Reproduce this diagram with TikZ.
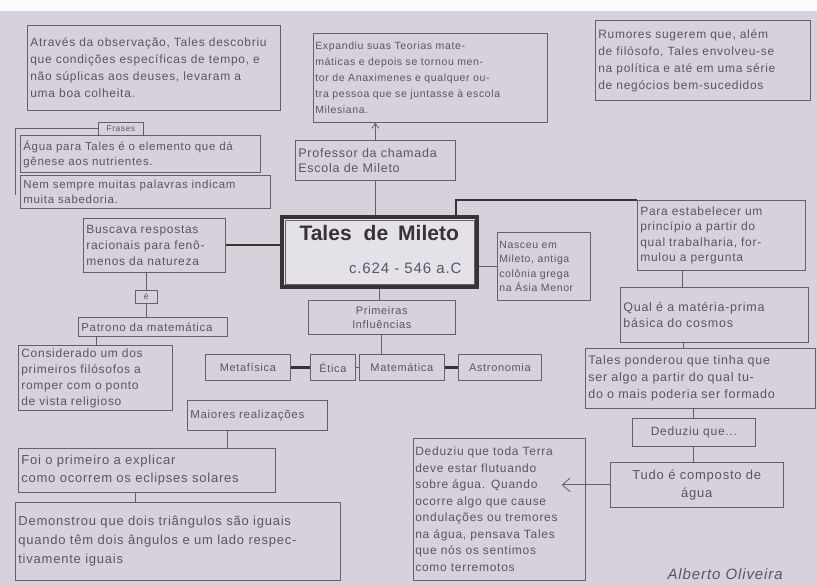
\documentclass[tikz,border=0pt]{standalone}
\usepackage{fontspec}
\setmainfont{Liberation Sans}[LetterSpace=6]
\newfontfamily\plainsans{Liberation Sans}
\usetikzlibrary{calc,arrows.meta}
\definecolor{paper}{RGB}{214,209,219}
\definecolor{pen}{RGB}{100,96,106}
\definecolor{ink}{RGB}{90,86,96}
\definecolor{dark}{RGB}{55,50,52}
\tikzset{
  bx/.style={draw=pen, line width=0.7pt, inner sep=3pt, align=left, text=ink,
    anchor=north west, font=\fontsize{11}{16}\selectfont},
  bxc/.style={bx, align=center},
  ln/.style={draw=pen, line width=0.8pt},
  lnk/.style={draw=dark, line width=2pt},
}
\begin{document}
\begin{tikzpicture}[x=1pt,y=-1pt]
\useasboundingbox (0,0) rectangle (817,585);
\clip (0,0) rectangle (817,585);
\fill[paper] (0,0) rectangle (817,585);
\fill[white!92!paper] (0,0) rectangle (817,11);

% top row
\node[bx, minimum width=253, minimum height=85, text width=247, font=\fontsize{12}{17}\selectfont] (obs) at (27,25)
 {Através da observação, Tales descobriu\\que condições específicas de tempo, e\\não súplicas aos deuses, levaram a\\uma boa colheita.};
\node[bx, minimum width=234, minimum height=89, text width=230, inner sep=2pt, font=\fontsize{10.5}{16}\selectfont] (exp) at (313,33)
 {Expandiu suas Teorias mate-\\máticas e depois se tornou men-\\tor de Anaximenes e qualquer ou-\\tra pessoa que se juntasse à escola\\Milesiana.};
\node[bx, minimum width=215, minimum height=80, text width=209, font=\fontsize{12}{17}\selectfont] (rum) at (595,20)
 {Rumores sugerem que, além\\de filósofo, Tales envolveu-se\\na política e até em uma série\\de negócios bem-sucedidos};

% frases
\node[bxc, minimum width=45, minimum height=13, inner sep=1pt, font=\fontsize{8.5}{9}\selectfont] (fra) at (98,122) {Frases};
\node[bx, minimum width=240, minimum height=37, text width=234, font=\fontsize{11.5}{15}\selectfont] (agu) at (20,135)
 {Água para Tales é o elemento que dá\\gênese aos nutrientes.};
\node[bx, minimum width=250, minimum height=33, text width=244, font=\fontsize{11.5}{15}\selectfont] (nem) at (20,175)
 {Nem sempre muitas palavras indicam\\muita sabedoria.};
\coordinate (fraend) at (15,195);
\draw[ln] (fra.west) -| (fraend);

% professor
\node[bx, minimum width=160, minimum height=40, text width=154, font=\fontsize{12.5}{15}\selectfont] (prof) at (295,140)
 {Professor da chamada\\Escola de Mileto};
\draw[ln, -{Straight Barb[length=5pt,width=7pt]}] (prof.north) -- (prof.north |- exp.south);

% central
\node[draw=dark, line width=4pt, fill=white!35!paper, anchor=north west, minimum width=195, minimum height=70] (tal) at (280,215) {};
\draw[pen, line width=0.6pt] ($(tal.north west)+(5,5)$) rectangle ($(tal.south east)+(-5,-5)$);
\node[text=dark, font=\plainsans\fontsize{21}{22}\selectfont\bfseries, anchor=west] (taln) at (296,233) {Tales\hspace{12pt}de\hspace{10pt}Mileto};
\node[text=ink, font=\fontsize{15}{16}\selectfont, anchor=east] (tald) at (465,268) {c.624 - 546 a.C};
\draw[ln] (prof.south) -- (prof.south |- tal.north);

% left column
\node[bx, minimum width=142, minimum height=54, text width=136, font=\fontsize{12}{16}\selectfont] (bus) at (83,218)
 {Buscava respostas\\racionais para fenô-\\menos da natureza};
\draw[lnk] (bus.east) -- (bus.east -| tal.west);
\node[bxc, minimum width=22, minimum height=13, inner sep=1pt, font=\fontsize{8.5}{9}\selectfont] (eh) at (135,290) {é};
\draw[ln, line width=1.4pt] (eh.north |- bus.south) -- (eh.north);
\node[bx, minimum width=149, minimum height=19, text width=143, font=\fontsize{11.5}{12}\selectfont] (pat) at (78,317)
 {Patrono da matemática};
\draw[ln, line width=1.4pt] (eh.south) -- (eh.south |- pat.north);
\node[bx, minimum width=154, minimum height=63, text width=148, font=\fontsize{12}{16}\selectfont] (con) at (18,345)
 {Considerado um dos\\primeiros filósofos a\\romper com o ponto\\de vista religioso};
\coordinate (c1) at ($(pat.south west)!0.12!(pat.south east)$);
\draw[ln] (c1) -- (c1 |- con.north);

% nasceu
\node[bx, minimum width=93, minimum height=68, text width=89, inner sep=2pt, font=\fontsize{10.5}{14.5}\selectfont] (nas) at (497,232)
 {Nasceu em\\Mileto, antiga\\colônia grega\\na Ásia Menor};
\draw[ln, line width=1.6pt] (nas.west -| tal.east) -- (nas.west);

% right column
\node[bx, minimum width=168, minimum height=70, text width=162, font=\fontsize{12}{15.5}\selectfont] (par) at (637,200)
 {Para estabelecer um\\princípio a partir do\\qual trabalharia, for-\\mulou a pergunta};
\draw[lnk, line width=1.6pt] ($(tal.north east)+(-23,0)$) |- (par.north west);
\node[bx, minimum width=188, minimum height=55, text width=182, font=\fontsize{12.5}{16}\selectfont] (qua) at (620,287)
 {Qual é a matéria-prima\\básica do cosmos};
\coordinate (c2) at ($(par.south west)!0.27!(par.south east)$);
\draw[ln, line width=1.4pt] (c2) -- (c2 |- qua.north);
\node[bx, minimum width=230, minimum height=60, text width=224, font=\fontsize{12.5}{17}\selectfont] (pon) at (585,348)
 {Tales ponderou que tinha que\\ser algo a partir do qual tu-\\do o mais poderia ser formado};
\coordinate (c3) at ($(qua.south west)!0.335!(qua.south east)$);
\draw[ln, line width=1.2pt] (c3) -- (c3 |- pon.north);
\node[bxc, minimum width=123, minimum height=28, font=\fontsize{12}{13}\selectfont] (ded) at (632,418) {Deduziu que...};
\draw[ln, line width=1.2pt] (ded.north |- pon.south) -- (ded.north);
\node[bxc, minimum width=173, minimum height=45, text width=167, font=\fontsize{13}{18}\selectfont] (tud) at (610,462)
 {Tudo é composto de\\água};
\draw[ln, line width=1.2pt] (ded.south) -- (ded.south |- tud.north);

% big box
\node[bx, minimum width=172, minimum height=142, text width=168, inner sep=2pt, font=\fontsize{12}{16.5}\selectfont] (big) at (413,438)
 {Deduziu que toda Terra\\deve estar flutuando\\sobre água. Quando\\ocorre algo que cause\\ondulações ou tremores\\na água, pensava Tales\\que nós os sentimos\\como terremotos};
\draw[ln, -{Straight Barb[length=8pt,width=14pt]}] (tud.west) -- ($(tud.west -| big.east)+(-24,0)$);

% influences
\node[bxc, minimum width=147, minimum height=34, font=\fontsize{11}{14}\selectfont] (pri) at (308,300)
 {Primeiras\\Influências};
\draw[ln, line width=1.4pt] (tal.south) -- (tal.south |- pri.north);
\node[bxc, minimum width=85, minimum height=26, font=\fontsize{11}{12}\selectfont] (met) at (205,354) {Metafísica};
\node[bxc, minimum width=45, minimum height=26, font=\fontsize{11}{12}\selectfont] (eti) at (310,354) {Ética};
\node[bxc, minimum width=85, minimum height=26, font=\fontsize{11}{12}\selectfont] (mat) at (359,354) {Matemática};
\node[bxc, minimum width=83, minimum height=26, font=\fontsize{11}{12}\selectfont] (ast) at (458,354) {Astronomia};
\draw[ln] (pri.south) -- (pri.south |- mat.north);
\draw[lnk, line width=2.4pt] (met.east) -- (eti.west);
\draw[ln, line width=1.2pt] (eti.east) -- (mat.west);
\draw[lnk, line width=2.4pt] (mat.east) -- (ast.west);

% realizations
\node[bx, minimum width=140, minimum height=30, text width=134, font=\fontsize{11.5}{12}\selectfont] (mai) at (187,400)
 {Maiores realizações};
\node[bx, minimum width=257, minimum height=44, text width=251, font=\fontsize{13}{18}\selectfont] (foi) at (18,448)
 {Foi o primeiro a explicar\\como ocorrem os eclipses solares};
\coordinate (c4) at ($(mai.south west)!0.29!(mai.south east)$);
\draw[ln, line width=1.2pt] (c4) -- (c4 |- foi.north);
\node[bx, minimum width=325, minimum height=78, text width=319, font=\fontsize{13}{19}\selectfont] (dem) at (15,502)
 {Demonstrou que dois triângulos são iguais\\quando têm dois ângulos e um lado respec-\\tivamente iguais};
\coordinate (c5) at ($(foi.south west)!0.455!(foi.south east)$);
\draw[ln, line width=1.2pt] (c5) -- (c5 |- dem.north);

% signature
\node[text=ink, font=\fontsize{15}{16}\selectfont\itshape, anchor=west] (sig) at (664,574) {Alberto Oliveira};
\end{tikzpicture}
\end{document}
